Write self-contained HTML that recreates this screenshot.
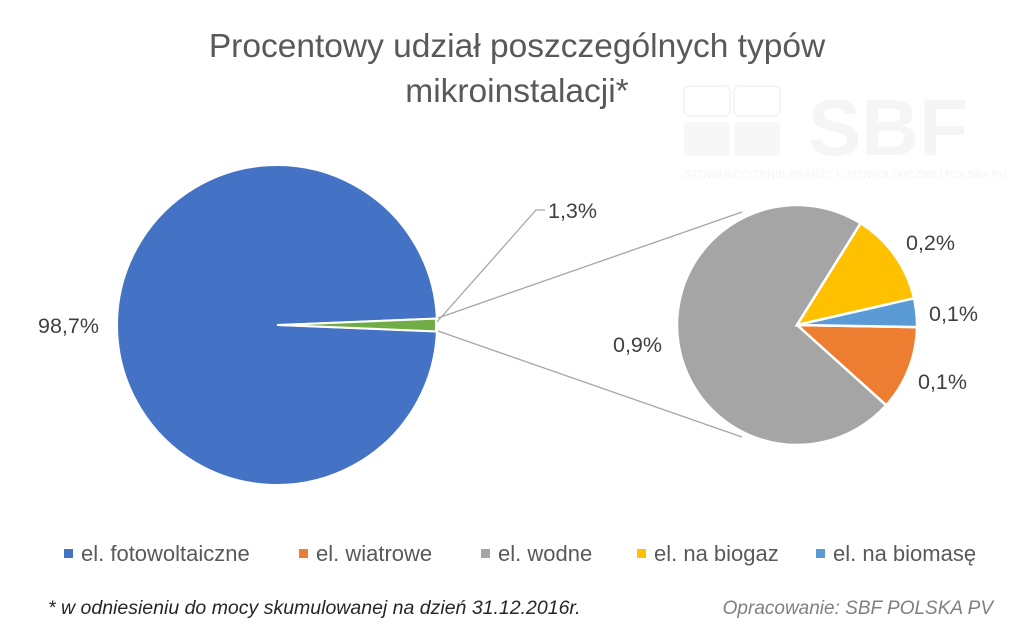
<!DOCTYPE html>
<html><head><meta charset="utf-8"><style>
body{margin:0;background:#fff;}
svg{display:block;font-family:"Liberation Sans","DejaVu Sans",sans-serif;}
</style></head><body>
<svg id="c" width="1024" height="632" viewBox="0 0 1024 632">
<g opacity="0.6">
<rect x="684" y="86" width="46" height="30" rx="6" fill="none" stroke="#eee" stroke-width="2"/>
<rect x="734" y="86" width="46" height="30" rx="6" fill="none" stroke="#eee" stroke-width="2"/>
<rect x="684" y="122" width="46" height="34" rx="4" fill="#f2f2f2"/>
<rect x="734" y="122" width="46" height="34" rx="4" fill="#f2f2f2"/>
<text x="808" y="155" font-size="80" font-weight="bold" fill="#f0f0f0">SBF</text>
<text x="684" y="178" font-size="11" fill="#eee">STOWARZYSZENIE BRANŻY FOTOWOLTAICZNEJ POLSKA PV</text>
</g>
<text x="517" y="57" text-anchor="middle" font-size="33.5" fill="#595959">Procentowy udział poszczególnych typów</text>
<text x="517" y="102" text-anchor="middle" font-size="33.5" fill="#595959">mikroinstalacji*</text>
<g id="connectors" stroke="#a6a6a6" stroke-width="1.3" fill="none">
<line x1="438" y1="318" x2="742" y2="212"/>
<line x1="438" y1="331" x2="742" y2="437"/>
<polyline points="437,322 536,210 545,210"/>
</g>
<g id="main"></g>
<g id="sec"></g>
<text x="548" y="218" font-size="21.5" fill="#404040">1,3%</text>
<text x="38" y="333" font-size="21.5" fill="#404040">98,7%</text>
<text x="613" y="352" font-size="21.5" fill="#404040">0,9%</text>
<text x="906" y="250" font-size="21.5" fill="#404040">0,2%</text>
<text x="929" y="321" font-size="21.5" fill="#404040">0,1%</text>
<text x="918" y="389" font-size="21.5" fill="#404040">0,1%</text>
<g font-size="22" fill="#595959">
<g><rect x="64" y="549" width="9" height="9" fill="#4472c4"/><text x="81" y="561">el. fotowoltaiczne</text></g>
<g><rect x="299" y="549" width="9" height="9" fill="#ed7d31"/><text x="316" y="561">el. wiatrowe</text></g>
<g><rect x="481" y="549" width="9" height="9" fill="#a5a5a5"/><text x="498" y="561">el. wodne</text></g>
<g><rect x="637" y="549" width="9" height="9" fill="#ffc000"/><text x="654" y="561">el. na biogaz</text></g>
<g><rect x="816" y="549" width="9" height="9" fill="#5b9bd5"/><text x="833" y="561">el. na biomasę</text></g>
</g>
<text x="48" y="614" font-size="19.5" font-style="italic" fill="#262626">* w odniesieniu do mocy skumulowanej na dzień 31.12.2016r.</text>
<text x="993" y="614" text-anchor="end" font-size="19" font-style="italic" fill="#7f7f7f">Opracowanie: SBF POLSKA PV</text>
</svg>
<script>
const mainCats=["el. fotowoltaiczne","pozostałe"];
const mainVals=[98.7,1.3];
const mainColors=["#4472c4","#70ad47"];
const secCats=["el. wiatrowe","el. wodne","el. na biogaz","el. na biomasę"];
const secVals=[0.148,0.939,0.163,0.05];
const secColors=["#ed7d31","#a5a5a5","#ffc000","#5b9bd5"];
const NS="http://www.w3.org/2000/svg";
function arc(cx,cy,r,a0,a1){
  const x0=cx+r*Math.cos(a0),y0=cy+r*Math.sin(a0),x1=cx+r*Math.cos(a1),y1=cy+r*Math.sin(a1);
  const large=(a1-a0)>Math.PI?1:0;
  return `M${cx},${cy}L${x0},${y0}A${r},${r} 0 ${large} 1 ${x1},${y1}Z`;
}
(function(){
  const g=document.getElementById('main');
  const tot=mainVals.reduce((a,b)=>a+b,0);
  const small=mainVals[1]/tot*2*Math.PI;
  let a=small/2;
  mainVals.forEach((v,i)=>{
    const s=v/tot*2*Math.PI;
    const p=document.createElementNS(NS,'path');
    const cx=i===1?280:277;
    p.setAttribute('d',arc(cx,325,i===1?156:160,a,a+s));
    p.setAttribute('fill',mainColors[i]);p.setAttribute('stroke','#fff');p.setAttribute('stroke-width','2');
    
    
    g.appendChild(p);a+=s;
  });
})();
(function(){
  const g=document.getElementById('sec');
  const tot=secVals.reduce((a,b)=>a+b,0);
  let a=1*Math.PI/180;
  secVals.forEach((v,i)=>{
    const s=v/tot*2*Math.PI;
    const p=document.createElementNS(NS,'path');
    p.setAttribute('d',arc(797,325,120,a,a+s));
    p.setAttribute('fill',secColors[i]);p.setAttribute('stroke','#fff');p.setAttribute('stroke-width','2.5');
    
    
    g.appendChild(p);a+=s;
  });
})();
</script>
</body></html>
